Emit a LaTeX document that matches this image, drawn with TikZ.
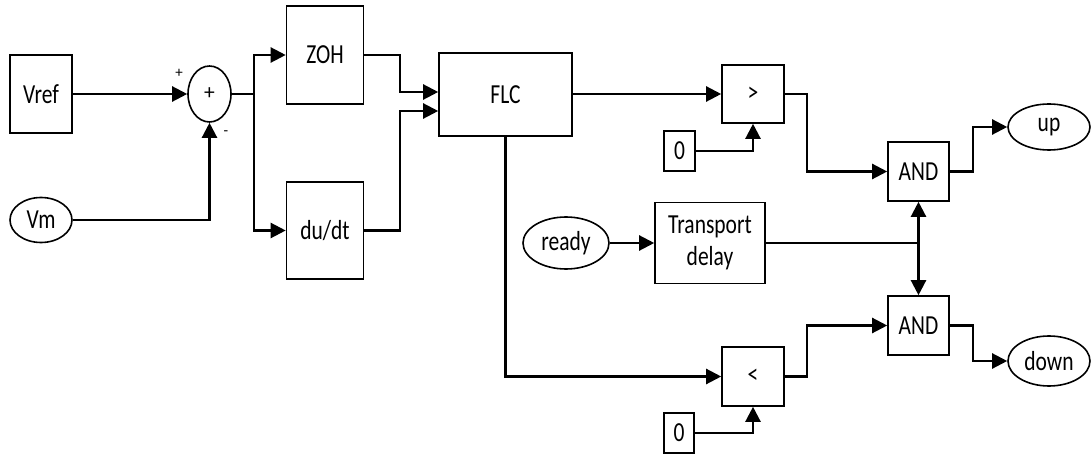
\documentclass[tikz,border=0pt]{standalone}
\usepackage{fontspec}
\usepackage{graphicx}
\setmainfont{Carlito}
\usetikzlibrary{shapes.geometric,arrows.meta}
\newcommand{\tx}[2][1.28]{\scalebox{1}[#1]{#2}}
\begin{document}
\begin{tikzpicture}[x=1pt,y=-1pt,
  blk/.style={draw, line width=1.6pt, rectangle, inner sep=0pt, font=\fontsize{21.5}{25}\selectfont},
  ell/.style={draw, ellipse, line width=1.6pt, inner sep=0pt, font=\fontsize{21.5}{25}\selectfont},
  wire/.style={line width=2.3pt},
  arr/.style={wire, -{Triangle[length=15pt,width=15pt]}},
  sgn/.style={font=\fontsize{15}{17}\selectfont, inner sep=0pt}]
\useasboundingbox (0,0) rectangle (1092,454);
% nodes
\node[blk, minimum width=62pt, minimum height=78pt] (vref) at (41,94) {\tx{Vref}};
\node[ell, minimum width=62pt, minimum height=45pt] (vm) at (41,220) {\tx{Vm}};
\node[ell, minimum width=43pt, minimum height=56pt] (sum) at (209.5,94) {+};
\node[sgn] (plus) at (179,73) {+};
\node[sgn] (minus) at (226,133) {-};
\node[blk, minimum width=77pt, minimum height=98pt] (zoh) at (325,55) {\tx{ZOH}};
\node[blk, minimum width=77pt, minimum height=97pt] (dudt) at (325,230.5) {\tx{du/dt}};
\node[blk, minimum width=133pt, minimum height=83pt] (flc) at (505.5,94.5) {\tx{FLC}};
\node[blk, minimum width=62pt, minimum height=58pt] (gt) at (753,94) {\tx{>}};
\node[blk, minimum width=31pt, minimum height=40pt] (zero1) at (679.5,151) {\tx{0}};
\node[ell, minimum width=86pt, minimum height=52pt] (ready) at (566,243) {\tx{ready}};
\node[blk, minimum width=110pt, minimum height=81pt] (td) at (710,243) {\tx{\begin{tabular}{@{}c@{}}Transport\\delay\end{tabular}}};
\node[blk, minimum width=61pt, minimum height=59pt] (and1) at (918.5,171.5) {\tx{AND}};
\node[blk, minimum width=61pt, minimum height=59pt] (and2) at (918.5,325.5) {\tx{AND}};
\node[ell, minimum width=82pt, minimum height=46pt] (up) at (1049,127) {\tx{up}};
\node[ell, minimum width=82pt, minimum height=50pt] (down) at (1049,361) {\tx{down}};
\node[blk, minimum width=62pt, minimum height=59pt] (lt) at (753,376.5) {\tx{<}};
\node[blk, minimum width=30pt, minimum height=40pt] (zero2) at (679,433) {\tx{0}};
\coordinate (split) at (254,94);
\coordinate (j) at (918.5,243);
% connectors
\draw[arr] (vref.east) -- (sum.west);
\draw[arr] (vm.east) -| (sum.south);
\draw[wire] (sum.east) -- (split);
\draw[arr] (split) |- (zoh.west);
\draw[arr] (split) |- (dudt.west);
\draw[arr] (zoh.east) -- (400,55) -- (400,92) -- (flc.west |- 0,92);
\draw[arr] (dudt.east) -- (400,230.5) -- (400,111) -- (flc.west |- 0,111);
\draw[arr] (flc.east |- gt.west) -- (gt.west);
\draw[arr] (zero1.east) -| (gt.south);
\draw[arr] (gt.east) -- (807,94) -- (807,171.5) -- (and1.west);
\draw[arr] (flc.south) |- (lt.west);
\draw[arr] (zero2.east) -| (lt.south);
\draw[arr] (lt.east) -- (807,376.5) -- (807,325.5) -- (and2.west);
\draw[arr] (ready.east) -- (td.west);
\draw[wire] (td.east) -- (j);
\draw[arr] (j) -- (and1.south);
\draw[arr] (j) -- (and2.north);
\draw[arr] (and1.east) -- (973,171.5) -- (973,127) -- (up.west);
\draw[arr] (and2.east) -- (973,325.5) -- (973,361) -- (down.west);
\end{tikzpicture}
\end{document}
